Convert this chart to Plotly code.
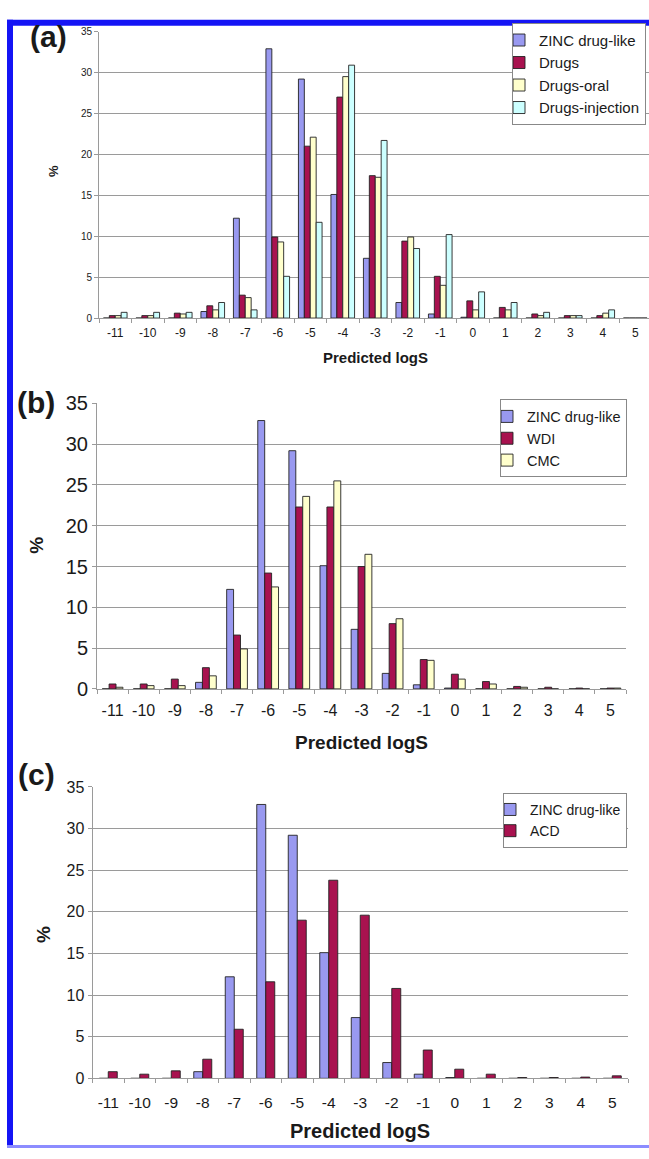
import plotly.graph_objects as go

W, H = 649, 1159
FONT = "Liberation Sans, Arial, sans-serif"

# ---------------- data ----------------
categories = ["-11", "-10", "-9", "-8", "-7", "-6", "-5", "-4", "-3", "-2",
              "-1", "0", "1", "2", "3", "4", "5"]

zinc = [0.0, 0.0, 0.0, 0.8, 12.2, 32.9, 29.2, 15.1, 7.3, 1.9, 0.5, 0.1, 0.0, 0.0, 0.0, 0.0, 0.0]

drugs = [0.3, 0.3, 0.6, 1.5, 2.8, 9.9, 21.0, 27.0, 17.4, 9.4, 5.1, 2.1, 1.3, 0.5, 0.3, 0.3, 0.0]
drugs_oral = [0.3, 0.3, 0.5, 1.0, 2.5, 9.3, 22.1, 29.5, 17.2, 9.9, 4.0, 1.0, 1.0, 0.3, 0.3, 0.6, 0.0]
drugs_inj = [0.7, 0.7, 0.7, 1.9, 1.0, 5.1, 11.7, 30.9, 21.7, 8.5, 10.2, 3.2, 1.9, 0.7, 0.3, 1.0, 0.0]

wdi = [0.6, 0.6, 1.2, 2.6, 6.6, 14.2, 22.3, 22.3, 15.0, 8.0, 3.6, 1.8, 0.9, 0.3, 0.2, 0.1, 0.1]
cmc = [0.2, 0.4, 0.4, 1.6, 4.9, 12.5, 23.6, 25.5, 16.5, 8.6, 3.5, 1.2, 0.6, 0.2, 0.0, 0.0, 0.1]

acd = [0.8, 0.5, 0.9, 2.3, 5.9, 11.6, 19.0, 23.8, 19.6, 10.8, 3.4, 1.1, 0.5, 0.1, 0.1, 0.15, 0.3]

y_ticks = [0, 5, 10, 15, 20, 25, 30, 35]

# ---------------- styles ----------------
C_ZINC = "#9999F0"
C_RED = "#A8124F"
C_ORAL = "#FFFFCC"
C_INJ = "#CCFFFF"
OUTLINE = "#222222"
GRID = "#9a9a9a"
TXT = "#1a1a1a"


def px_x(p):
    return p / W


def px_y(p):
    return 1 - p / H


panels = [
    dict(xa="x", ya="y", x0=99, x1=649, cat_w=32.5, y0=313, y35=21, legend="legend",
         series=[("ZINC drug-like", zinc, C_ZINC), ("Drugs", drugs, C_RED),
                 ("Drugs-oral", drugs_oral, C_ORAL), ("Drugs-injection", drugs_inj, C_INJ)],
         ytick=10, xtick=12, xstand=4, leg=dict(x=512, y=12, size=15)),
    dict(xa="x2", ya="y2", x0=97, x1=626, cat_w=None, y0=691, y35=400, legend="legend2",
         series=[("ZINC drug-like", zinc, C_ZINC), ("WDI", wdi, C_RED), ("CMC", cmc, C_ORAL)],
         ytick=20, xtick=16, xstand=7, leg=dict(x=500, y=396, size=14.5)),
    dict(xa="x3", ya="y3", x0=92.5, x1=628, cat_w=None, y0=1088, y35=791, legend="legend3",
         series=[("ZINC drug-like", zinc, C_ZINC), ("ACD", acd, C_RED)],
         ytick=16, xtick=15.5, xstand=10, leg=dict(x=503, y=797, size=14)),
]

fig = go.Figure()
layout = dict(
    width=W, height=H, margin=dict(l=0, r=0, t=0, b=0),
    paper_bgcolor="white", plot_bgcolor="white",
    barmode="overlay", font=dict(family=FONT, color=TXT),
    showlegend=True,
)

for i, p in enumerate(panels):
    n = len(p["series"])
    bw = 1.0 / (n + 1.5)  # Excel-like gap width of 150 %
    for k, (name, vals, col) in enumerate(p["series"]):
        fig.add_trace(go.Bar(
            x=categories, y=vals, name=name,
            xaxis=p["xa"], yaxis=p["ya"], legend=p["legend"],
            width=bw, offset=-n * bw / 2 + k * bw,
            marker=dict(color=col, line=dict(color=OUTLINE, width=0.9)),
        ))
    sfx = "" if i == 0 else str(i + 1)
    if p["cat_w"]:
        xr = [-0.5, -0.5 + (p["x1"] - p["x0"]) / p["cat_w"]]
    else:
        xr = [-0.5, len(categories) - 0.5]
    layout["xaxis" + sfx] = dict(
        domain=[px_x(p["x0"]), px_x(p["x1"])], anchor=p["ya"], type="category",
        range=xr, tickson="boundaries", ticks="outside", ticklen=4, tickcolor=GRID,
        showline=True, linecolor=GRID, linewidth=1, showgrid=False, tickangle=0,
        ticklabelstandoff=p["xstand"],
        tickfont=dict(size=p["xtick"], color=TXT, family=FONT), fixedrange=True,
    )
    layout["yaxis" + sfx] = dict(
        domain=[px_y(p["y0"]), px_y(p["y35"])], anchor=p["xa"], range=[0, 35],
        tickvals=y_ticks, ticks="outside", ticklen=4, tickcolor=GRID,
        showline=True, linecolor=GRID, linewidth=1, showgrid=True, gridcolor=GRID,
        gridwidth=1, zeroline=False,
        tickfont=dict(size=p["ytick"], color=TXT, family=FONT), fixedrange=True,
    )
    lg = p["leg"]
    layout[p["legend"]] = dict(
        x=px_x(lg["x"]), y=px_y(lg["y"]), xanchor="left", yanchor="top",
        bgcolor="white", bordercolor="#888888", borderwidth=1,
        font=dict(size=lg["size"], family=FONT, color=TXT),
        itemwidth=30, tracegroupgap=0, indentation=-14,
    )

ann = []
# panel letters
for txt, cx, cy in [("(a)", 48, 26), ("(b)", 36, 399), ("(c)", 36, 778)]:
    ann.append(dict(text=f"<b>{txt}</b>", x=px_x(cx), y=px_y(cy), xref="paper", yref="paper",
                    xanchor="center", yanchor="middle",
                    showarrow=False, font=dict(size=30, family=FONT, color=TXT)))
# x titles
for cx, cy, sz in [(375, 353, 15), (361, 746, 19), (360, 1142, 20)]:
    ann.append(dict(text="<b>Predicted logS</b>", x=px_x(cx), y=px_y(cy), xref="paper",
                    yref="paper", xanchor="center", yanchor="middle",
                    showarrow=False, font=dict(size=sz, family=FONT, color=TXT)))
# y titles
for cx, cy, sz in [(54, 163, 13), (37, 545, 19), (43, 942, 19)]:
    ann.append(dict(text="<b>%</b>", x=px_x(cx), y=px_y(cy), xref="paper", yref="paper",
                    xanchor="center", yanchor="middle",
                    textangle=-90, showarrow=False, font=dict(size=sz, family=FONT, color=TXT)))
layout["annotations"] = ann

# blue frame of the figure image
BLUE = "#1414F5"
layout["shapes"] = [
    dict(type="rect", xref="paper", yref="paper", x0=px_x(7), x1=1, y0=px_y(15), y1=px_y(9),
         fillcolor=BLUE, line=dict(width=0), layer="above"),
    dict(type="rect", xref="paper", yref="paper", x0=px_x(7), x1=px_x(13), y0=0, y1=px_y(9),
         fillcolor=BLUE, line=dict(width=0), layer="above"),
    dict(type="rect", xref="paper", yref="paper", x0=px_x(7), x1=1, y0=0, y1=px_y(1156),
         fillcolor="#8C8CFF", line=dict(width=0), layer="above"),
]

fig.update_layout(**layout)
fig.write_html("out.html", include_plotlyjs=True, config={"displayModeBar": False})
